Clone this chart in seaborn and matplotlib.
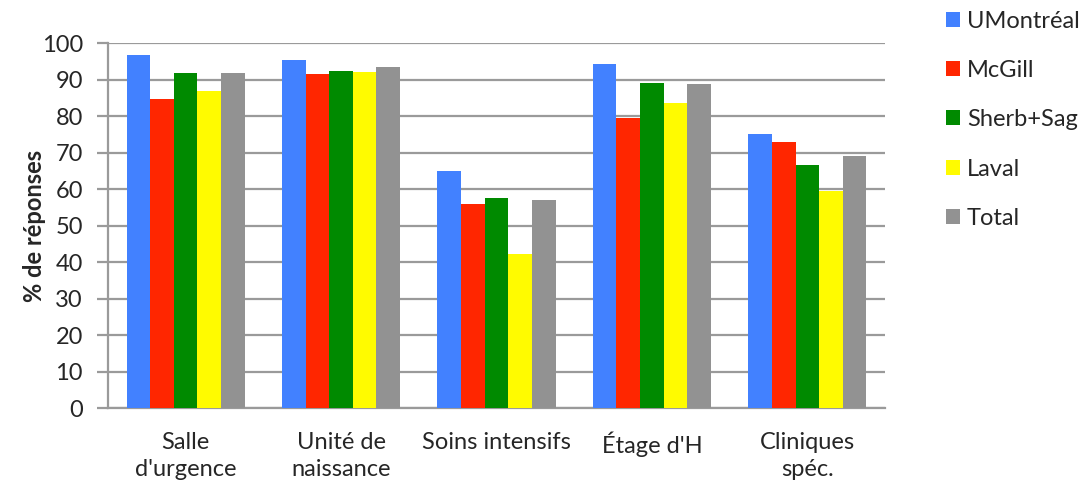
import pandas as pd
import matplotlib
matplotlib.use("Agg")
import matplotlib.pyplot as plt
import seaborn as sns

# Daten
categories = ["Salle\nd'urgence", "Unité de\nnaissance", "Soins intensifs", "Étage d'H", "Cliniques\nspéc."]
groups = ["UMontréal", "McGill", "Sherb+Sag", "Laval", "Total"]
umontreal = [96.8, 95.4, 64.9, 94.2, 75.2]
mcgill = [84.7, 91.6, 56.0, 79.6, 72.8]
sherb_sag = [91.8, 92.4, 57.7, 89.0, 66.7]
laval = [87.0, 92.0, 42.3, 83.7, 59.4]
total = [91.9, 93.5, 57.0, 88.9, 69.1]
colors = ["#4281FF", "#FF2600", "#008A00", "#FFFB00", "#929292"]

series = [umontreal, mcgill, sherb_sag, laval, total]
rows = []
for g, vals in zip(groups, series):
    for c, v in zip(categories, vals):
        rows.append({"categorie": c, "groupe": g, "pct": v})
df = pd.DataFrame(rows)

sns.set_style("white")
plt.rcParams["font.family"] = ["Lato", "DejaVu Sans"]

fig = plt.figure(figsize=(10.9, 4.91), dpi=100)
ax = fig.add_axes([0.099, 0.169, 0.713, 0.743])

sns.barplot(data=df, x="categorie", y="pct", hue="groupe", order=categories,
            hue_order=groups, palette=colors, width=0.76, saturation=1,
            edgecolor="none", linewidth=0, ax=ax, zorder=3)

ax.set_ylim(0, 100)
ax.set_xlim(-0.5, 4.5)
ax.set_yticks(range(0, 101, 10))
ax.yaxis.grid(True, color="#9a9a9a", linewidth=1.6, zorder=0)
ax.set_axisbelow(True)
for s in ["top", "right"]:
    ax.spines[s].set_visible(False)
for s in ["left", "bottom"]:
    ax.spines[s].set_color("#9a9a9a")
    ax.spines[s].set_linewidth(1.6)
ax.tick_params(axis="y", length=8, width=1.6, color="#9a9a9a", labelsize=17, pad=10, left=True)
ax.tick_params(axis="x", length=0, labelsize=17, pad=17)
for lab in ax.get_xticklabels():
    lab.set_linespacing(1.4)

ax.set_xlabel("")
ax.set_ylabel("% de réponses", fontsize=17, fontweight="bold")
ax.yaxis.set_label_coords(-0.080, 0.5)

handles, labels = ax.get_legend_handles_labels()
ax.legend(handles, labels, loc="upper left", bbox_to_anchor=(0.858, 1.0),
          bbox_transform=fig.transFigure, frameon=False, fontsize=17,
          handlelength=0.6, handleheight=0.6, handletextpad=0.3,
          labelspacing=1.2, borderaxespad=0.05)

fig.savefig("out.png", dpi=100)
